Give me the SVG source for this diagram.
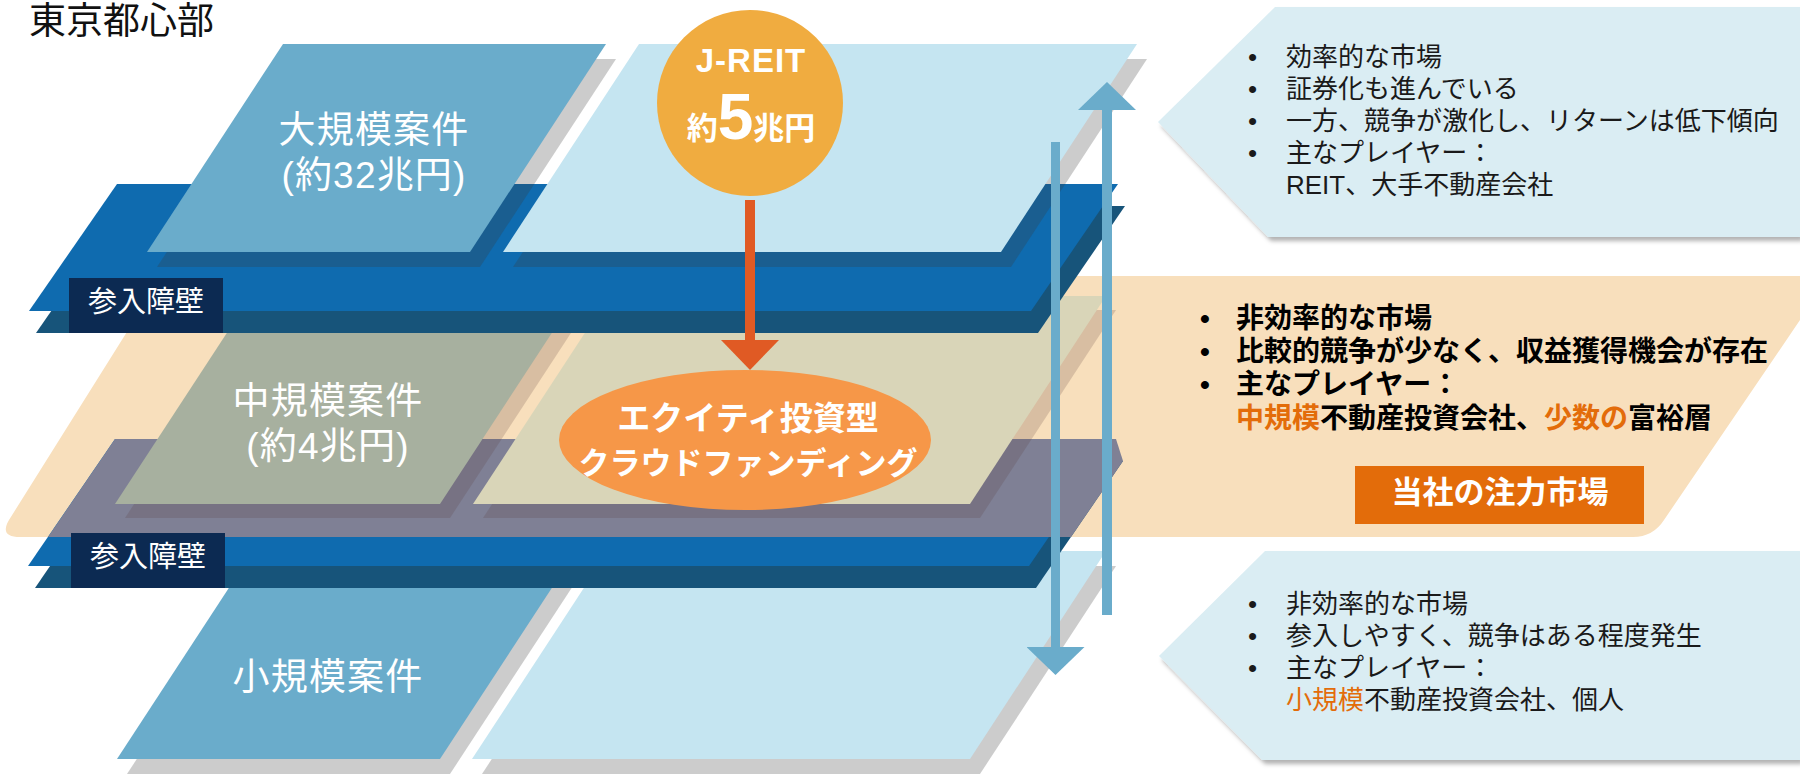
<svg xmlns="http://www.w3.org/2000/svg" width="1800" height="775" viewBox="0 0 1800 775">
<defs>
<style>
text{font-family:"Liberation Sans","Noto Sans CJK JP",sans-serif;}
.lbl{fill:#fff;font-size:37px;text-anchor:middle;letter-spacing:1.2px;}
.bar{fill:#fff;font-size:29px;text-anchor:middle;}
.box{fill:#0C2A52;}
.blue{fill:#0F6BAF;}
.dark{fill:#17547A;}
.mid{fill:#6AACCB;}
.light{fill:#C5E5F1;}
.sh{fill:rgb(57,57,57);fill-opacity:0.26;}
.shm{fill:rgb(90,60,60);fill-opacity:0.2;}
.call{fill:#DAEDF3;}
.t26{font-size:26px;fill:#1a1a1a;}
.t28{font-size:28px;fill:#000;font-weight:700;}
.or{fill:#E36C0A;}
</style>
<filter id="ds" x="-5%" y="-5%" width="115%" height="120%">
<feDropShadow dx="3" dy="4" stdDeviation="2" flood-color="#000" flood-opacity="0.3"/>
</filter>
<marker id="hb" markerUnits="userSpaceOnUse" markerWidth="28" markerHeight="58" viewBox="0 -29 28 58" refX="0" refY="0" orient="auto">
<path d="M0,-29 L28,0 L0,29 Z" fill="#6AACCB"/>
</marker>
<marker id="ho" markerUnits="userSpaceOnUse" markerWidth="30" markerHeight="58" viewBox="0 -29 30 58" refX="0" refY="0" orient="auto">
<path d="M0,-29 L30,0 L0,29 Z" fill="#E05A24"/>
</marker>
</defs>
<rect width="1800" height="775" fill="#fff"/>

<text x="29" y="34" font-size="37" fill="#111">東京都心部</text>

<!-- bottom layer -->
<g id="layer-small">
<polygon class="sh" points="263,566 586,566 450,774 127,774"/>
<polygon class="sh" points="618,566 1116,566 980,774 482,774"/>
<polygon class="mid" points="253,551 576,551 440,759 117,759"/>
<polygon class="light" points="608,551 1106,551 970,759 472,759"/>
<text class="lbl" x="328" y="690">小規模案件</text>
</g>

<!-- middle layer -->
<g id="layer-medium">
<path d="M162,276 L1830,276 L1664,520 Q1653,537 1633,537 L20,537 Q-1,537 9,520 Z" fill="#F8DFBC"/>
<polygon class="dark" points="122,461 1123,461 1036,588 35,588"/>
<polygon class="blue" points="115,439 1116,439 1029,566 28,566"/>
<polygon fill="#7F8095" points="115,439 1116,439 1123,461 1071,537 48,537"/>
<polygon class="shm" points="261,310 586,310 450,518 125,518"/>
<polygon class="shm" points="619,310 1116,310 980,518 483,518"/>
<polygon fill="#A7B09F" points="251,296 576,296 440,504 115,504"/>
<polygon fill="#D9D5B8" points="609,296 1106,296 970,504 473,504"/>
<text class="lbl"><tspan x="328" y="414">中規模案件</tspan><tspan x="328" y="459">(約4兆円)</tspan></text>
</g>

<!-- top layer -->
<g id="layer-large">
<polygon class="dark" points="124,206 1125,206 1038,333 36,333"/>
<polygon class="blue" points="117,184 1118,184 1031,311 29,311"/>
<polygon class="sh" points="293,59 616,59 480,267 157,267"/>
<polygon class="sh" points="649,59 1147,59 1011,267 513,267"/>
<polygon class="mid" points="283,44 606,44 470,252 147,252"/>
<polygon class="light" points="639,44 1137,44 1001,252 503,252"/>
<text class="lbl"><tspan x="374" y="143">大規模案件</tspan><tspan x="374" y="188">(約32兆円)</tspan></text>
</g>

<g id="barrier-1">
<rect class="box" x="69" y="278" width="154" height="55"/>
<text class="bar" x="146" y="312">参入障壁</text>
</g>
<g id="barrier-2">
<rect class="box" x="71" y="533" width="154" height="55"/>
<text class="bar" x="148" y="567">参入障壁</text>
</g>

<g id="connectors">
<line x1="750" y1="200" x2="750" y2="340" stroke="#E05A24" stroke-width="10" marker-end="url(#ho)"/>
<line x1="1107" y1="615" x2="1107" y2="110" stroke="#6AACCB" stroke-width="10" marker-end="url(#hb)"/>
<line x1="1055.5" y1="142" x2="1055.5" y2="647" stroke="#6AACCB" stroke-width="9" marker-end="url(#hb)"/>
</g>

<g id="jreit">
<circle cx="750" cy="103" r="93" fill="#F0AC40"/>
<text fill="#fff" font-weight="700" text-anchor="middle"><tspan x="751" y="72" font-size="33" letter-spacing="1">J-REIT</tspan><tspan x="751" y="139" font-size="31">約<tspan font-size="64">5</tspan>兆円</tspan></text>
</g>

<g id="crowdfunding">
<ellipse cx="745" cy="440" rx="186" ry="70" fill="#F69748"/>
<text font-weight="700" fill="#fff" text-anchor="middle"><tspan x="748" y="430" font-size="33">エクイティ投資型</tspan><tspan x="748" y="474" font-size="31">クラウドファンディング</tspan></text>
</g>

<g id="callout-large">
<path class="call" filter="url(#ds)" d="M1275,7 L1800,7 L1800,237 L1268,237 L1158,122 Z"/>
<text class="t26">
<tspan x="1248" y="66">•</tspan><tspan x="1286" y="66">効率的な市場</tspan>
<tspan x="1248" y="98">•</tspan><tspan x="1286" y="98">証券化も進んでいる</tspan>
<tspan x="1248" y="130">•</tspan><tspan x="1286" y="130">一方、競争が激化し、リターンは低下傾向</tspan>
<tspan x="1248" y="162">•</tspan><tspan x="1286" y="162">主なプレイヤー：</tspan>
<tspan x="1286" y="194">REIT、大手不動産会社</tspan>
</text>
</g>

<g id="callout-medium">
<text class="t28">
<tspan x="1200" y="328">•</tspan><tspan x="1236" y="328">非効率的な市場</tspan>
<tspan x="1200" y="361">•</tspan><tspan x="1236" y="361">比較的競争が少なく、収益獲得機会が存在</tspan>
<tspan x="1200" y="394">•</tspan><tspan x="1236" y="394">主なプレイヤー：</tspan>
<tspan x="1236" y="428"><tspan class="or">中規模</tspan>不動産投資会社、<tspan class="or">少数の</tspan>富裕層</tspan>
</text>
<rect x="1355" y="466" width="289" height="58" fill="#E36C0A"/>
<text x="1500" y="503" font-size="31" font-weight="700" fill="#fff" text-anchor="middle">当社の注力市場</text>
</g>

<g id="callout-small">
<path class="call" filter="url(#ds)" d="M1265,551 L1800,551 L1800,760 L1262,760 L1159,656 Z"/>
<text class="t26">
<tspan x="1248" y="613">•</tspan><tspan x="1286" y="613">非効率的な市場</tspan>
<tspan x="1248" y="645">•</tspan><tspan x="1286" y="645">参入しやすく、競争はある程度発生</tspan>
<tspan x="1248" y="677">•</tspan><tspan x="1286" y="677">主なプレイヤー：</tspan>
<tspan x="1286" y="709"><tspan class="or">小規模</tspan>不動産投資会社、個人</tspan>
</text>
</g>
</svg>
